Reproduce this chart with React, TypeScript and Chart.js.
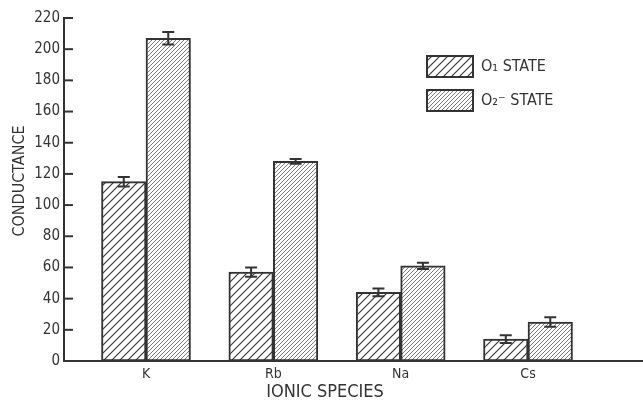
import React, { useEffect, useRef } from "react";
import { Chart, registerables } from "chart.js";

Chart.register(...registerables);

const categories = ["K", "Rb", "Na", "Cs"];
const o1Values = [115, 57, 44, 14];
const o1Errors = [3, 3, 2.5, 2.5];
const o2Values = [207, 128, 61, 25];
const o2Errors = [4, 1.5, 2, 3];
const seriesLabels = ["O\u2081 STATE", "O\u2082\u207B STATE"];
const yTitle = "CONDUCTANCE";
const xTitle = "IONIC SPECIES";

const INK = "#333333";
const FONT = "'DejaVu Sans Condensed', 'DejaVu Sans', sans-serif";

function makeHatch(size: number, lw: number, color: string) {
  const c = document.createElement("canvas");
  c.width = size;
  c.height = size;
  const g = c.getContext("2d")!;
  g.fillStyle = "#ffffff";
  g.fillRect(0, 0, size, size);
  g.strokeStyle = color;
  g.lineWidth = lw;
  g.beginPath();
  g.moveTo(-1, size + 1);
  g.lineTo(size + 1, -1);
  g.moveTo(-2, 2);
  g.lineTo(2, -2);
  g.moveTo(size - 2, size + 2);
  g.lineTo(size + 2, size - 2);
  g.stroke();
  return g.createPattern(c, "repeat")!;
}

export default function App() {
  const ref = useRef<HTMLCanvasElement | null>(null);

  useEffect(() => {
    const canvas = ref.current;
    if (!canvas) return;
    const coarse = makeHatch(8, 1.2, "#3a3a3a");
    const fine = makeHatch(4, 0.9, "#6a6a6a");
    const patterns = [coarse, fine];
    const errs = [o1Errors, o2Errors];

    const extras = {
      id: "extras",
      afterDatasetsDraw(chart: any) {
        const ctx = chart.ctx;
        const y = chart.scales.y;
        const area = chart.chartArea;
        ctx.save();
        ctx.strokeStyle = INK;
        ctx.lineWidth = 2;
        // error bars
        chart.data.datasets.forEach((ds: any, di: number) => {
          const meta = chart.getDatasetMeta(di);
          meta.data.forEach((bar: any, i: number) => {
            const v = ds.data[i].y;
            const e = errs[di][i];
            const top = y.getPixelForValue(v + e);
            const bot = y.getPixelForValue(v - e);
            ctx.beginPath();
            ctx.moveTo(bar.x, top);
            ctx.lineTo(bar.x, bot);
            ctx.moveTo(bar.x - 6, top);
            ctx.lineTo(bar.x + 6, top);
            ctx.moveTo(bar.x - 6, bot);
            ctx.lineTo(bar.x + 6, bot);
            ctx.stroke();
          });
        });
        // inward y tick marks
        y.ticks.forEach((t: any) => {
          const py = y.getPixelForValue(t.value);
          ctx.beginPath();
          ctx.moveTo(area.left, py);
          ctx.lineTo(area.left + 9, py);
          ctx.stroke();
        });
        // legend
        const boxes = [
          [427, 56],
          [427, 90],
        ];
        boxes.forEach((b, i) => {
          ctx.fillStyle = patterns[i];
          ctx.fillRect(b[0], b[1], 46, 21);
          ctx.strokeRect(b[0], b[1], 46, 21);
          ctx.fillStyle = INK;
          ctx.font = `16px ${FONT}`;
          ctx.textAlign = "left";
          ctx.textBaseline = "middle";
          ctx.fillText(seriesLabels[i], 481, b[1] + 11);
        });
        // titles
        ctx.fillStyle = INK;
        ctx.font = `18px ${FONT}`;
        ctx.textAlign = "center";
        ctx.textBaseline = "middle";
        ctx.fillText(xTitle, 325, 392);
        ctx.save();
        ctx.translate(20, 181);
        ctx.rotate(-Math.PI / 2);
        ctx.font = `16px ${FONT}`;
        ctx.fillText(yTitle, 0, 0);
        ctx.restore();
        ctx.restore();
      },
    };

    const chart = new Chart(canvas, {
      type: "bar",
      data: {
        datasets: [o1Values, o2Values].map((vals, di) => ({
          label: seriesLabels[di],
          data: vals.map((v, i) => ({ x: i + 1, y: v })),
          backgroundColor: patterns[di],
          borderColor: INK,
          borderWidth: 2,
          borderSkipped: false,
          barThickness: 44.5,
        })),
      },
      options: {
        animation: false,
        responsive: true,
        maintainAspectRatio: false,
        layout: { padding: { top: 18, right: 0, left: 0, bottom: 0 } },
        plugins: {
          legend: { display: false },
          tooltip: { enabled: false },
        },
        scales: {
          x: {
            type: "linear",
            min: 0.356,
            max: 4.903,
            offset: false,
            afterBuildTicks: (s: any) => {
              s.ticks = categories.map((_, i) => ({ value: i + 1 }));
            },
            afterFit: (s: any) => {
              s.height = 41;
            },
            ticks: {
              callback: (v: any) => categories[Math.round(Number(v)) - 1] ?? "",
              autoSkip: false,
              maxRotation: 0,
              padding: 5,
              color: INK,
              font: { family: FONT, size: 14 },
            },
            grid: { display: false, drawTicks: false },
            border: { display: true, color: INK, width: 2 },
          },
          y: {
            min: 0,
            max: 220,
            afterFit: (s: any) => {
              s.width = 64;
            },
            ticks: {
              stepSize: 20,
              padding: 4,
              color: INK,
              font: { family: FONT, size: 15 },
            },
            grid: { display: false, drawTicks: false },
            border: { display: true, color: INK, width: 2 },
          },
        },
      },
      plugins: [extras],
    } as any);

    return () => chart.destroy();
  }, []);

  return (
    <div
      style={{
        position: "fixed",
        left: 0,
        top: 0,
        width: 643,
        height: 402,
        background: "#ffffff",
      }}
    >
      <canvas ref={ref} />
    </div>
  );
}
